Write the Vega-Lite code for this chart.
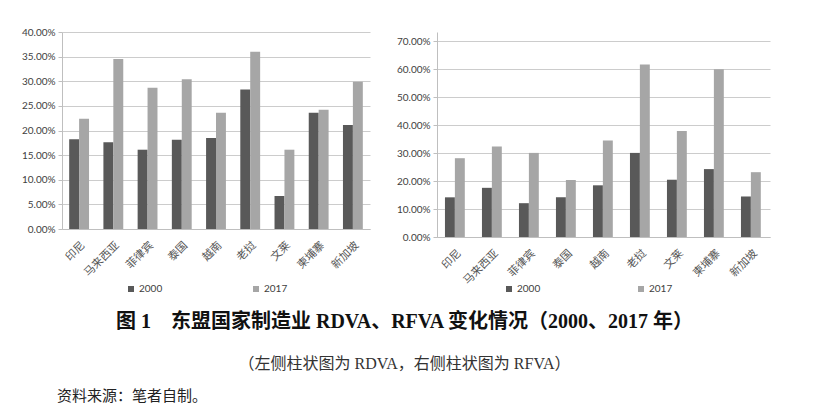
{
  "$schema": "https://vega.github.io/schema/vega-lite/v6.json",
  "background": "white",
  "padding": {"left": 5, "top": 27, "right": 5, "bottom": 5},
  "datasets": {
    "rdva": [
      {"country": "印尼", "year": "2000", "value": 0.182},
      {"country": "印尼", "year": "2017", "value": 0.224},
      {"country": "马来西亚", "year": "2000", "value": 0.176},
      {"country": "马来西亚", "year": "2017", "value": 0.345},
      {"country": "菲律宾", "year": "2000", "value": 0.161},
      {"country": "菲律宾", "year": "2017", "value": 0.287},
      {"country": "泰国", "year": "2000", "value": 0.181},
      {"country": "泰国", "year": "2017", "value": 0.304},
      {"country": "越南", "year": "2000", "value": 0.185},
      {"country": "越南", "year": "2017", "value": 0.236},
      {"country": "老挝", "year": "2000", "value": 0.283},
      {"country": "老挝", "year": "2017", "value": 0.360},
      {"country": "文莱", "year": "2000", "value": 0.067},
      {"country": "文莱", "year": "2017", "value": 0.161},
      {"country": "柬埔寨", "year": "2000", "value": 0.236},
      {"country": "柬埔寨", "year": "2017", "value": 0.242},
      {"country": "新加坡", "year": "2000", "value": 0.211},
      {"country": "新加坡", "year": "2017", "value": 0.299}
    ],
    "rfva": [
      {"country": "印尼", "year": "2000", "value": 0.142},
      {"country": "印尼", "year": "2017", "value": 0.282},
      {"country": "马来西亚", "year": "2000", "value": 0.176},
      {"country": "马来西亚", "year": "2017", "value": 0.324},
      {"country": "菲律宾", "year": "2000", "value": 0.121},
      {"country": "菲律宾", "year": "2017", "value": 0.301},
      {"country": "泰国", "year": "2000", "value": 0.142},
      {"country": "泰国", "year": "2017", "value": 0.204},
      {"country": "越南", "year": "2000", "value": 0.185},
      {"country": "越南", "year": "2017", "value": 0.345},
      {"country": "老挝", "year": "2000", "value": 0.301},
      {"country": "老挝", "year": "2017", "value": 0.617},
      {"country": "文莱", "year": "2000", "value": 0.205},
      {"country": "文莱", "year": "2017", "value": 0.379},
      {"country": "柬埔寨", "year": "2000", "value": 0.243},
      {"country": "柬埔寨", "year": "2017", "value": 0.600},
      {"country": "新加坡", "year": "2000", "value": 0.145},
      {"country": "新加坡", "year": "2017", "value": 0.232}
    ]
  },
  "title": {
    "text": "资料来源：笔者自制。",
    "orient": "bottom",
    "anchor": "start",
    "font": "Noto Sans CJK SC",
    "fontSize": 15,
    "fontWeight": "normal",
    "color": "#222222",
    "offset": 17,
    "dx": 52
  },
  "vconcat": [
    {
      "title": {
        "text": "图 1　东盟国家制造业 RDVA、RFVA 变化情况（2000、2017 年）",
        "subtitle": "（左侧柱状图为 RDVA，右侧柱状图为 RFVA）",
        "orient": "bottom",
        "anchor": "middle",
        "dx": 17,
        "font": "Liberation Serif, Noto Sans CJK SC",
        "fontSize": 20,
        "fontWeight": "bold",
        "color": "#111111",
        "subtitleFont": "Liberation Serif, Noto Sans CJK SC",
        "subtitleFontSize": 16,
        "subtitleColor": "#333333",
        "subtitlePadding": 24,
        "offset": 18
      },
      "spacing": 20,
      "resolve": {"legend": {"color": "independent"}},
      "hconcat": [
        {
          "width": 308,
          "height": 197,
          "data": {"name": "rdva"},
          "mark": {"type": "bar"},
          "encoding": {
            "x": {
              "field": "country", "type": "nominal", "sort": null,
              "scale": {"paddingInner": 0.42, "paddingOuter": 0.21},
              "axis": {"title": null}
            },
            "xOffset": {"field": "year", "type": "nominal", "sort": ["2000", "2017"]},
            "y": {
              "field": "value", "type": "quantitative",
              "scale": {"domain": [0, 0.4], "nice": false},
              "axis": {"title": null, "format": ".2%", "values": [0, 0.05, 0.1, 0.15, 0.2, 0.25, 0.3, 0.35, 0.4], "minExtent": 57}
            },
            "color": {
              "field": "year", "type": "nominal",
              "scale": {"domain": ["2000", "2017"], "range": ["#595959", "#a6a6a6"]},
              "legend": {"title": null, "orient": "none", "legendX": 64, "legendY": 252, "columnPadding": 88}
            }
          }
        },
        {
          "width": 333,
          "height": 205,
          "data": {"name": "rfva"},
          "mark": {"type": "bar"},
          "encoding": {
            "x": {
              "field": "country", "type": "nominal", "sort": null,
              "scale": {"paddingInner": 0.43, "paddingOuter": 0.215},
              "axis": {"title": null}
            },
            "xOffset": {"field": "year", "type": "nominal", "sort": ["2000", "2017"]},
            "y": {
              "field": "value", "type": "quantitative",
              "scale": {"domain": [0, 0.7337], "nice": false},
              "axis": {"title": null, "format": ".2%", "values": [0, 0.1, 0.2, 0.3, 0.4, 0.5, 0.6, 0.7], "minExtent": 47}
            },
            "color": {
              "field": "year", "type": "nominal",
              "scale": {"domain": ["2000", "2017"], "range": ["#595959", "#a6a6a6"]},
              "legend": {"title": null, "orient": "none", "legendX": 67, "legendY": 252, "columnPadding": 95}
            }
          }
        }
      ]
    }
  ],
  "config": {
    "view": {"stroke": null},
    "axisY": {
      "domain": true, "domainColor": "#bfbfbf", "ticks": true, "tickSize": 4, "tickColor": "#bfbfbf",
      "grid": true, "gridColor": "#cccccc", "labelFont": "Lato", "labelFontSize": 10,
      "labelColor": "#404040", "labelPadding": 3
    },
    "axisX": {
      "domain": true, "domainColor": "#bfbfbf", "ticks": false, "grid": false,
      "labelAngle": -45, "labelFont": "Noto Sans CJK SC", "labelFontSize": 11,
      "labelColor": "#555555", "labelPadding": 10
    },
    "legend": {
      "direction": "horizontal", "symbolType": "square", "symbolSize": 36,
      "symbolStrokeWidth": 0, "labelFont": "Lato", "labelFontSize": 10, "labelColor": "#404040",
      "labelOffset": 3
    }
  }
}
